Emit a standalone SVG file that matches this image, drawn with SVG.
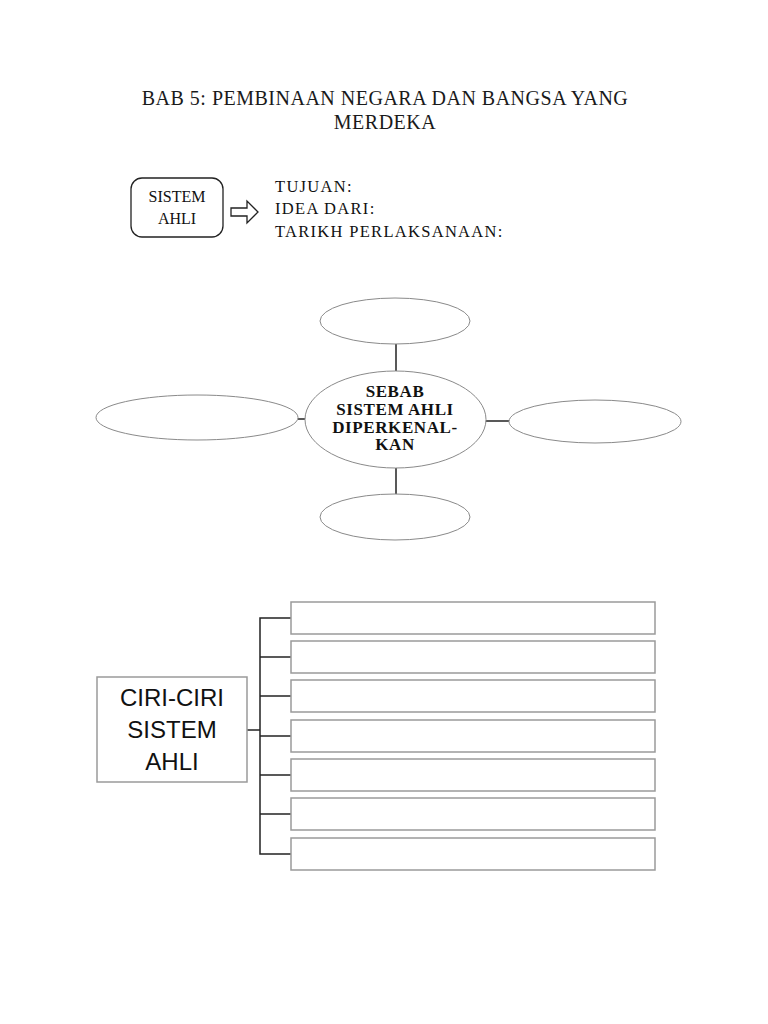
<svg xmlns="http://www.w3.org/2000/svg" width="768" height="1024" viewBox="0 0 768 1024">
<style>
.title{font-family:"Liberation Serif",serif;font-size:20px;letter-spacing:0.5px;fill:#1a1a1a}
.deco{font-family:"Liberation Serif",serif;font-size:16px;fill:#111}
.info{font-family:"Liberation Serif",serif;font-size:16.5px;letter-spacing:1.3px;fill:#111}
.ctr{font-family:"Liberation Serif",serif;font-size:17px;font-weight:bold;letter-spacing:0.6px;fill:#111}
.ciri{font-family:"Liberation Sans",Arial,sans-serif;font-size:24px;fill:#111}
.ell{fill:#fff;stroke:#8a8a8a;stroke-width:1}
.box{fill:#fff;stroke:#9a9a9a;stroke-width:1.5}
.con{stroke:#222;stroke-width:1.5;fill:none}
</style>
<rect width="768" height="1024" fill="#fff"/>
<g id="title">
<text class="title" x="385" y="105" text-anchor="middle">BAB 5: PEMBINAAN NEGARA DAN BANGSA YANG</text>
<text class="title" x="385" y="129" text-anchor="middle">MERDEKA</text>
</g>
<g id="sistem-ahli">
<rect x="131" y="178" width="92" height="59" rx="11" fill="#fff" stroke="#222" stroke-width="1.3"/>
<text class="deco" x="177" y="202" text-anchor="middle">SISTEM</text>
<text class="deco" x="177" y="224" text-anchor="middle">AHLI</text>
</g>
<g id="arrow">
<path d="M231,208 H247 V201 L258,212 L247,223 V216 H231 Z" fill="#fff" stroke="#222" stroke-width="1.3"/>
</g>
<g id="info">
<text class="info" x="275" y="192">TUJUAN:</text>
<text class="info" x="275" y="214">IDEA DARI:</text>
<text class="info" x="275" y="237">TARIKH PERLAKSANAAN:</text>
</g>
<g id="connectors">
<line class="con" x1="396" y1="344" x2="396" y2="371"/>
<line class="con" x1="396" y1="468" x2="396" y2="495"/>
<line class="con" x1="298" y1="419" x2="306" y2="419"/>
<line class="con" x1="485" y1="421" x2="510" y2="421"/>
<line class="con" x1="247" y1="730" x2="260" y2="730"/>
<polyline class="con" points="291,618 260,618 260,854 291,854"/>
<line class="con" x1="260" y1="657" x2="291" y2="657"/>
<line class="con" x1="260" y1="696" x2="291" y2="696"/>
<line class="con" x1="260" y1="736" x2="291" y2="736"/>
<line class="con" x1="260" y1="775" x2="291" y2="775"/>
<line class="con" x1="260" y1="814" x2="291" y2="814"/>
</g>
<g id="e-top"><ellipse class="ell" cx="395" cy="321" rx="75" ry="23"/></g>
<g id="e-bottom"><ellipse class="ell" cx="395" cy="517" rx="75" ry="23"/></g>
<g id="e-left"><ellipse class="ell" cx="197" cy="417.5" rx="101" ry="22.5"/></g>
<g id="e-right"><ellipse class="ell" cx="595" cy="421.5" rx="86" ry="21.5"/></g>
<g id="e-center">
<ellipse class="ell" cx="395.5" cy="419.5" rx="90.5" ry="48.5"/>
<text class="ctr" x="395" y="397" text-anchor="middle">SEBAB</text>
<text class="ctr" x="395" y="415" text-anchor="middle">SISTEM AHLI</text>
<text class="ctr" x="395" y="433" text-anchor="middle">DIPERKENAL-</text>
<text class="ctr" x="395" y="450" text-anchor="middle">KAN</text>
</g>
<g id="ciri">
<rect class="box" x="97" y="677" width="150" height="105"/>
<text class="ciri" x="172" y="706" text-anchor="middle">CIRI-CIRI</text>
<text class="ciri" x="172" y="738" text-anchor="middle">SISTEM</text>
<text class="ciri" x="172" y="770" text-anchor="middle">AHLI</text>
</g>
<g id="r1"><rect class="box" x="291" y="602" width="364" height="32"/></g>
<g id="r2"><rect class="box" x="291" y="641" width="364" height="32"/></g>
<g id="r3"><rect class="box" x="291" y="680" width="364" height="32"/></g>
<g id="r4"><rect class="box" x="291" y="720" width="364" height="32"/></g>
<g id="r5"><rect class="box" x="291" y="759" width="364" height="32"/></g>
<g id="r6"><rect class="box" x="291" y="798" width="364" height="32"/></g>
<g id="r7"><rect class="box" x="291" y="838" width="364" height="32"/></g>
</svg>
